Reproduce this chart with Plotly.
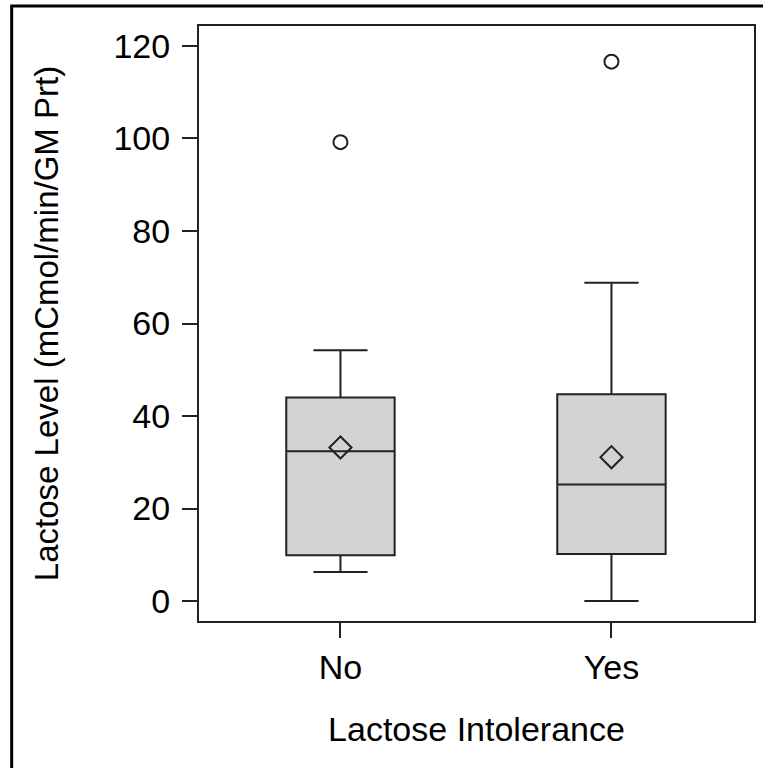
import plotly.graph_objects as go

categories = ["No", "Yes"]
q1 = [9.9, 10.2]
median = [32.4, 25.2]
q3 = [44.0, 44.7]
lower_whisker = [6.3, 0.0]
upper_whisker = [54.2, 68.8]
means = [33.2, 31.1]
outliers = [99.2, 116.6]

y_ticks = [0, 20, 40, 60, 80, 100, 120]

W, H = 763, 768
L, R, T, B = 199, 7, 26, 147
pw, ph = W - L - R, H - T - B

font_family = "Liberation Sans, Arial, sans-serif"
dark = "#222222"

fig = go.Figure()
fig.add_trace(go.Box(
    x=categories, q1=q1, median=median, q3=q3,
    lowerfence=lower_whisker, upperfence=upper_whisker,
    width=0.4, whiskerwidth=0.5,
    fillcolor="#d3d3d3", line=dict(color=dark, width=2),
    boxpoints=False, hoverinfo="skip",
))
fig.add_trace(go.Scatter(
    x=categories, y=means, mode="markers",
    marker=dict(symbol="diamond-open", size=17, color=dark, line=dict(width=2, color=dark)),
))
fig.add_trace(go.Scatter(
    x=categories, y=outliers, mode="markers",
    marker=dict(symbol="circle-open", size=14, color=dark, line=dict(width=2, color=dark)),
))

def px_x(p):
    return (p - L) / pw

def px_y(p):
    return (H - B - p) / ph

fig.add_shape(type="rect", xref="paper", yref="paper",
              x0=px_x(11), x1=px_x(820), y0=px_y(820), y1=px_y(6),
              line=dict(color="black", width=3), fillcolor="rgba(0,0,0,0)", layer="above")

fig.update_layout(
    width=W, height=H,
    margin=dict(l=L, r=R, t=T, b=B, pad=0),
    paper_bgcolor="white", plot_bgcolor="white",
    showlegend=False,
    font=dict(family=font_family, size=34, color="black"),
    xaxis=dict(
        type="category", categoryarray=categories, range=[-0.522, 1.526],
        showline=True, linewidth=2, linecolor=dark, mirror=True,
        ticks="outside", ticklen=15, tickwidth=2, tickcolor=dark,
        showgrid=False, zeroline=False,
        tickfont=dict(size=34),
        title=dict(text="Lactose Intolerance", font=dict(size=34), standoff=32),
    ),
    yaxis=dict(
        range=[-4.3, 124.3], tickvals=y_ticks,
        showline=True, linewidth=2, linecolor=dark, mirror=True,
        ticks="outside", ticklen=15, tickwidth=2, tickcolor=dark,
        showgrid=False, zeroline=False, ticklabelstandoff=5,
        tickfont=dict(size=34),
        title=dict(text="Lactose Level (mCmol/min/GM Prt)", font=dict(size=33), standoff=45),
    ),
)

fig.write_html("out.html")
